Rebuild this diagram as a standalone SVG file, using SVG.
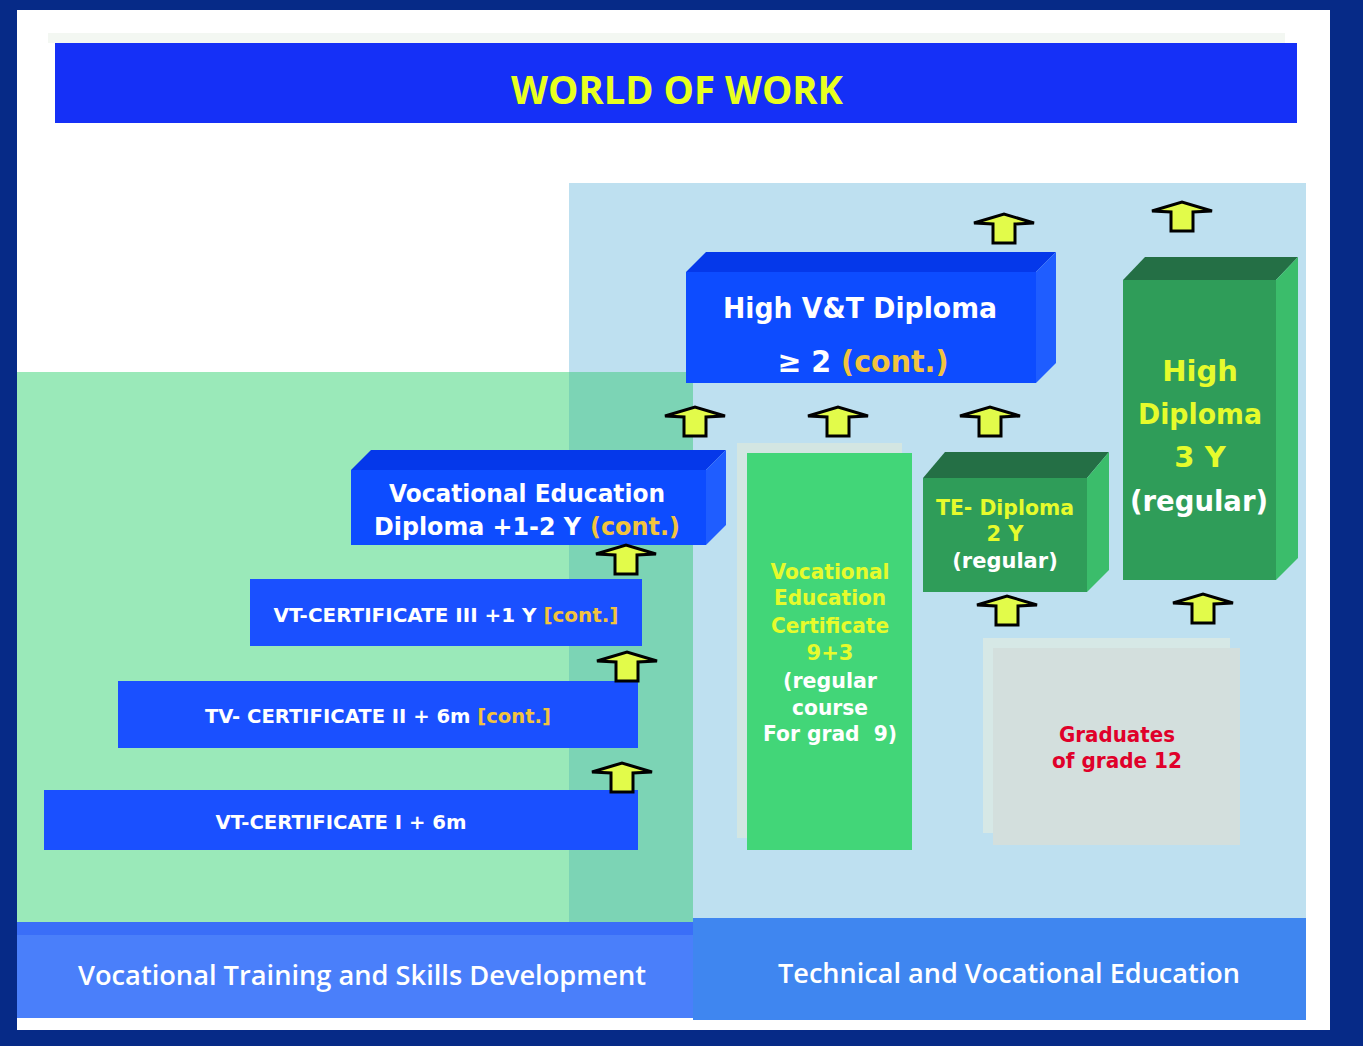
<svg xmlns="http://www.w3.org/2000/svg" xmlns:xlink="http://www.w3.org/1999/xlink" width="1363" height="1046" viewBox="0 0 1363 1046">
<style>
.t{font-family:"DejaVu Sans","Liberation Sans",sans-serif;font-weight:bold;text-anchor:middle}
.s{font-family:"DejaVu Sans","Liberation Sans",sans-serif;font-weight:bold;text-anchor:start}
.w{fill:#ffffff}
.y{fill:#e6fb2c}
.g{fill:#f2c33e}
.r{fill:#e0002a}
.band{font-family:"Open Sans","Liberation Sans",sans-serif;font-weight:600;fill:#ffffff;text-anchor:middle}
.arr{fill:#e2fb4a;stroke:#000;stroke-width:3;stroke-linejoin:miter}
</style>
<defs>
<polygon id="arrow" class="arr" points="-11,29 -11,10 -30,9 0,0 30,9 11,10 11,29"/>
</defs>
<rect x="0" y="0" width="1363" height="1046" fill="#062a87"/>
<rect x="17" y="10" width="1313" height="1020" fill="#ffffff"/>
<rect x="17" y="1030" width="1313" height="16" fill="#062a87"/>

<g id="title">
<rect x="48" y="33" width="1237" height="10" fill="#f3f7f2"/>
<rect x="55" y="43" width="1242" height="80" fill="#1530f7"/>
<text x="677" y="104" font-family="Open Sans, Liberation Sans, sans-serif" font-weight="bold" font-size="40" fill="#e8ff20" text-anchor="middle" textLength="332" lengthAdjust="spacingAndGlyphs">WORLD OF WORK</text>
</g>

<g id="panels">
<rect x="569" y="183" width="737" height="740" fill="#bee0f0"/>
<rect x="17" y="372" width="676" height="552" fill="#9ae9b9"/>
<rect x="569" y="372" width="124" height="552" fill="#7cd4b5"/>
</g>

<g id="band-left">
<rect x="17" y="922" width="676" height="96" fill="#4a7ffa"/>
<rect x="17" y="922" width="676" height="13" fill="#3a6ef8"/>
<text class="band" x="362" y="985" font-size="27" textLength="568" lengthAdjust="spacingAndGlyphs">Vocational Training and Skills Development</text>
</g>
<g id="band-right">
<rect x="693" y="918" width="613" height="102" fill="#3f86f0"/>
<text class="band" x="1009" y="983" font-size="27" textLength="462" lengthAdjust="spacingAndGlyphs">Technical and Vocational Education</text>
</g>

<g id="high-vt-diploma">
<polygon points="686,272 706,252 1056,252 1036,272" fill="#0538ea"/>
<polygon points="1036,272 1056,252 1056,363 1036,383" fill="#1f5dff"/>
<rect x="686" y="272" width="350" height="111" fill="#0d4cff"/>
<text class="t w" x="860" y="318" font-size="29" textLength="274" lengthAdjust="spacingAndGlyphs">High V&amp;T Diploma</text>
<text class="t w" x="863" y="372" font-size="30" textLength="171" lengthAdjust="spacingAndGlyphs">≥ 2 <tspan class="g">(cont.)</tspan></text>
</g>

<g id="voc-ed-diploma">
<polygon points="351,470 371,450 726,450 706,470" fill="#0538ea"/>
<polygon points="706,470 726,450 726,525 706,545" fill="#1f5dff"/>
<rect x="351" y="470" width="355" height="75" fill="#0d4cff"/>
<text class="t w" x="527" y="502" font-size="24" textLength="276" lengthAdjust="spacingAndGlyphs">Vocational Education</text>
<text class="s w" x="374" y="535" font-size="24" textLength="207" lengthAdjust="spacingAndGlyphs">Diploma +1-2 Y</text>
<text class="s g" x="590" y="535" font-size="24" textLength="90" lengthAdjust="spacingAndGlyphs">(cont.)</text>
</g>

<g id="vt-cert-3">
<rect x="250" y="579" width="392" height="67" fill="#1a50ff"/>
<text class="t w" x="446" y="622" font-size="19" textLength="345" lengthAdjust="spacingAndGlyphs">VT-CERTIFICATE III +1 Y <tspan class="g">[cont.]</tspan></text>
</g>
<g id="tv-cert-2">
<rect x="118" y="681" width="520" height="67" fill="#1a50ff"/>
<text class="t w" x="378" y="723" font-size="19" textLength="346" lengthAdjust="spacingAndGlyphs">TV- CERTIFICATE II + 6m <tspan class="g">[cont.]</tspan></text>
</g>
<g id="vt-cert-1">
<rect x="44" y="790" width="594" height="60" fill="#1a50ff"/>
<text class="t w" x="341" y="829" font-size="19" textLength="251" lengthAdjust="spacingAndGlyphs">VT-CERTIFICATE I + 6m</text>
</g>

<g id="voc-ed-cert">
<rect x="737" y="443" width="165" height="395" fill="#d3e6e2"/>
<rect x="747" y="453" width="165" height="397" fill="#42d678"/>
<text class="t y" x="830" y="579" font-size="21" textLength="119" lengthAdjust="spacingAndGlyphs">Vocational</text>
<text class="t y" x="830" y="605" font-size="21" textLength="112" lengthAdjust="spacingAndGlyphs">Education</text>
<text class="t y" x="830" y="633" font-size="21" textLength="118" lengthAdjust="spacingAndGlyphs">Certificate</text>
<text class="t y" x="830" y="660" font-size="21">9+3</text>
<text class="t w" x="830" y="688" font-size="21" textLength="94" lengthAdjust="spacingAndGlyphs">(regular</text>
<text class="t w" x="830" y="715" font-size="21" textLength="76" lengthAdjust="spacingAndGlyphs">course</text>
<text class="t w" x="830" y="741" font-size="21" xml:space="preserve" textLength="134" lengthAdjust="spacingAndGlyphs">For grad  9)</text>
</g>

<g id="te-diploma">
<polygon points="923,478 945,452 1109,452 1087,478" fill="#246f45"/>
<polygon points="1087,478 1109,452 1109,570 1087,592" fill="#3bbd6b"/>
<rect x="923" y="478" width="164" height="114" fill="#2f9d59"/>
<text class="t y" x="1005" y="515" font-size="21" textLength="138" lengthAdjust="spacingAndGlyphs">TE- Diploma</text>
<text class="t y" x="1005" y="541" font-size="21">2 Y</text>
<text class="t w" x="1005" y="568" font-size="21">(regular)</text>
</g>

<g id="high-diploma">
<polygon points="1123,280 1145,257 1298,257 1276,280" fill="#246f45"/>
<polygon points="1276,280 1298,257 1298,558 1276,580" fill="#3bbd6b"/>
<rect x="1123" y="280" width="153" height="300" fill="#2f9d59"/>
<text class="t y" x="1200" y="381" font-size="29">High</text>
<text class="t y" x="1200" y="424" font-size="29" textLength="124" lengthAdjust="spacingAndGlyphs">Diploma</text>
<text class="t y" x="1200" y="467" font-size="29">3 Y</text>
<text class="t w" x="1199" y="511" font-size="29" textLength="138" lengthAdjust="spacingAndGlyphs">(regular)</text>
</g>

<g id="graduates">
<rect x="983" y="638" width="247" height="195" fill="#d6e8e6"/>
<rect x="993" y="648" width="247" height="197" fill="#d3dfdd"/>
<text class="t r" x="1117" y="742" font-size="21" textLength="116" lengthAdjust="spacingAndGlyphs">Graduates</text>
<text class="t r" x="1117" y="768" font-size="21" textLength="130" lengthAdjust="spacingAndGlyphs">of grade 12</text>
</g>

<g id="connectors">
<use xlink:href="#arrow" x="1004" y="214"/>
<use xlink:href="#arrow" x="1182" y="202"/>
<use xlink:href="#arrow" x="695" y="407"/>
<use xlink:href="#arrow" x="838" y="407"/>
<use xlink:href="#arrow" x="990" y="407"/>
<use xlink:href="#arrow" x="1007" y="596"/>
<use xlink:href="#arrow" x="1203" y="594"/>
<use xlink:href="#arrow" x="626" y="545"/>
<use xlink:href="#arrow" x="627" y="652"/>
<use xlink:href="#arrow" x="622" y="763"/>
</g>
</svg>
